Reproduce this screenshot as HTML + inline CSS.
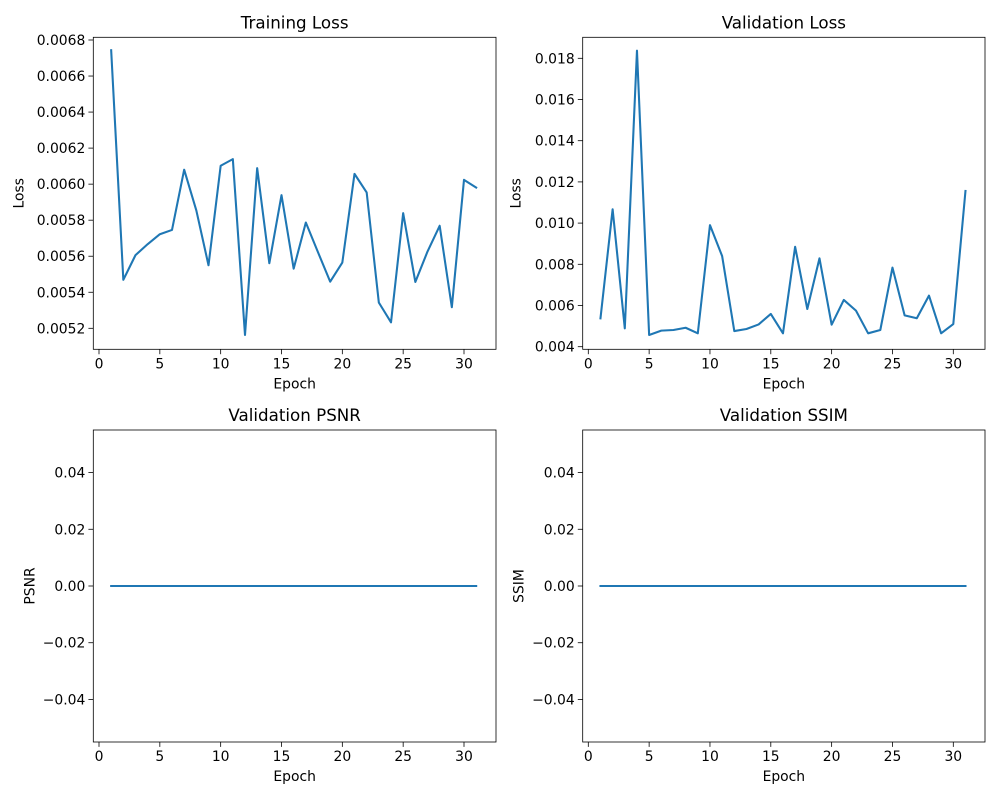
<!DOCTYPE html>
<html><head><meta charset="utf-8"><style>
body{margin:0;background:#fff}
svg text{font-family:"DejaVu Sans","Liberation Sans",sans-serif;fill:#000}
</style></head><body>
<svg id="fig" width="1000" height="800" xmlns="http://www.w3.org/2000/svg"></svg>
<script>
const epochs = [1,2,3,4,5,6,7,8,9,10,11,12,13,14,15,16,17,18,19,20,21,22,23,24,25,26,27,28,29,30,31];
const trainLoss = [0.006743,0.005469,0.005606,0.005667,0.005722,0.005746,0.00608,0.005854,0.00555,0.006102,0.006139,0.005163,0.006089,0.005561,0.005939,0.005531,0.005787,0.005622,0.005459,0.005565,0.006057,0.005954,0.005343,0.005233,0.005839,0.005457,0.005626,0.005769,0.005317,0.006024,0.005981];
const valLoss = [0.005375,0.01067,0.00489,0.01837,0.00457,0.00478,0.00481,0.00492,0.00465,0.0099,0.0084,0.00476,0.00486,0.00508,0.00559,0.00465,0.00885,0.00583,0.00829,0.00507,0.00627,0.00575,0.00465,0.00481,0.00784,0.00552,0.00538,0.00648,0.00465,0.0051,0.01156];
const valPSNR = [0,0,0,0,0,0,0,0,0,0,0,0,0,0,0,0,0,0,0,0,0,0,0,0,0,0,0,0,0,0,0];
const valSSIM = [0,0,0,0,0,0,0,0,0,0,0,0,0,0,0,0,0,0,0,0,0,0,0,0,0,0,0,0,0,0,0];
const xTicks = [0,5,10,15,20,25,30];
const trainTicks = [0.0052,0.0054,0.0056,0.0058,0.0060,0.0062,0.0064,0.0066,0.0068];
const valTicks = [0.004,0.006,0.008,0.010,0.012,0.014,0.016,0.018];
const zeroTicks = [-0.04,-0.02,0.00,0.02,0.04];

const NS="http://www.w3.org/2000/svg";
const svg=document.getElementById('fig');
function mk(tag,attrs,parent){const e=document.createElementNS(NS,tag);for(const k in attrs)e.setAttribute(k,attrs[k]);(parent||svg).appendChild(e);return e;}

function panel(key,L,R,T,B,xmin,xmax,ymin,ymax,yTicks,dec,data,title,ylabel){
  const g=mk('g',{});
  
  
  const sx=v=>L+(v-xmin)/(xmax-xmin)*(R-L);
  const sy=v=>B-(v-ymin)/(ymax-ymin)*(B-T);
  const t=mk('text',{x:(L+R)/2,y:T-9,'text-anchor':'middle','font-size':'16.7'},g);t.textContent=title;
  
  
  xTicks.forEach(v=>{const x=sx(v);mk('line',{x1:x,x2:x,y1:B,y2:B+4.9,stroke:'#000','stroke-width':0.8},g);
    const tx=mk('text',{x:x,y:B+19,'text-anchor':'middle','font-size':'13.9'},g);tx.textContent=v;
    
    });
  yTicks.forEach(v=>{const y=sy(v);mk('line',{x1:L-4.9,x2:L,y1:y,y2:y,stroke:'#000','stroke-width':0.8},g);
    let s=v.toFixed(dec); if(s.startsWith('-'))s='\u2212'+s.slice(1);
    const tx=mk('text',{x:L-8,y:y+5,'text-anchor':'end','font-size':'13.9'},g);tx.textContent=s;
    
    });
  const xl=mk('text',{x:(L+R)/2,y:B+39,'text-anchor':'middle','font-size':'13.9'},g);xl.textContent='Epoch';
  
  
  const lx=L-(dec===4?70:(dec===3?62:59));
  const yl=mk('text',{x:lx,y:(T+B)/2,'text-anchor':'middle','font-size':'13.9',transform:`rotate(-90 ${lx} ${(T+B)/2})`},g);yl.textContent=ylabel;
  
  
  const pts=epochs.map((e,i)=>sx(e).toFixed(2)+','+sy(data[i]).toFixed(2)).join(' ');
  const pl=mk('polyline',{points:pts,fill:'none',stroke:'#1f77b4','stroke-width':2.08,'stroke-linejoin':'round','stroke-linecap':'square'},g);
  
  
  const fr=mk('rect',{x:L,y:T,width:R-L,height:B-T,fill:'none',stroke:'#000','stroke-width':0.8},g);
  
  
}
// x: 0 -> 99, 30 -> 464 ; axes 93.3..496
const kx=(464-99)/30;
function xr(L0,R,x0){return [(L0-x0)/kx,(R-x0)/kx];}
let [a,b]=xr(93.3,496,99);
// train: 0.0052 -> 328.3, 0.0068 -> 40
let ky=(328.3-40)/0.0016;
panel('training-loss',93.3,496,37.3,349.3,a,b,0.0052-(349.3-328.3)/ky,0.0068+(40-37.3)/ky,trainTicks,4,trainLoss,'Training Loss','Loss');
let [c,d]=xr(582.7,985,588.3);
// val: 0.004 -> 346.7, 0.018 -> 58.3
ky=(346.7-58.3)/0.014;
panel('validation-loss',582.7,985,37.3,349.3,c,d,0.004-(349.3-346.7)/ky,0.018+(58.3-37.3)/ky,valTicks,3,valLoss,'Validation Loss','Loss');
panel('validation-psnr',93.3,496,430,742,a,b,-0.055,0.055,zeroTicks,2,valPSNR,'Validation PSNR','PSNR');
panel('validation-ssim',582.7,985,430,742,c,d,-0.055,0.055,zeroTicks,2,valSSIM,'Validation SSIM','SSIM');
</script>
</body></html>
